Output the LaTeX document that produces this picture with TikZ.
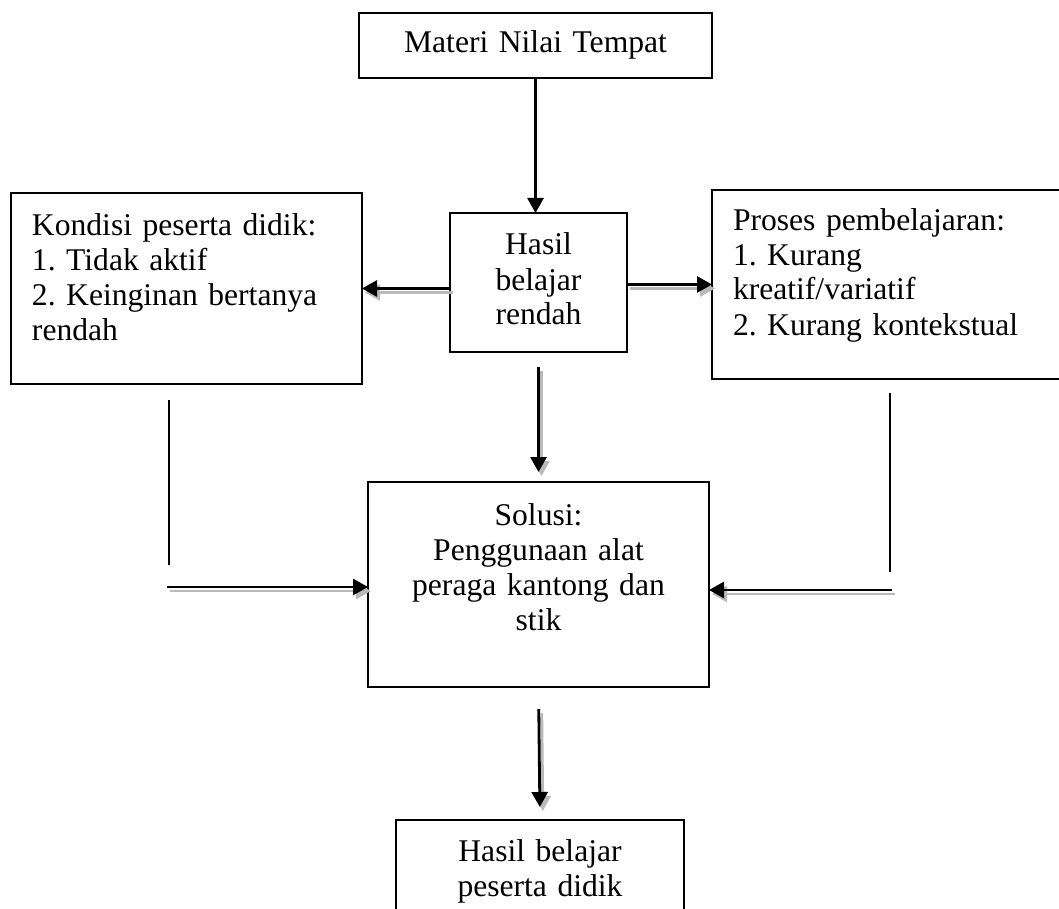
\documentclass[tikz,border=0pt]{standalone}
\usepackage{fontspec}
\setmainfont{Liberation Serif}
\usetikzlibrary{arrows.meta}
\frenchspacing
\tikzset{
	kotak/.style = {draw, line width = 1pt, inner xsep = 10.5pt, inner ysep = 0pt, outer sep = 0pt, anchor = north west, font = \fontsize{15.8}{17.5}\selectfont},
	panah/.style = {line width = 1.4pt, -{Triangle[length = 7.5pt, width = 8pt]}},
	bayang/.style = {draw = gray!55, transform canvas = {xshift = 1.5pt, yshift = -2pt}},
	garis/.style = {line width = 1pt}
}

\begin{document}
\begin{tikzpicture}[x = 0.5pt, y = -0.5pt]
		\useasboundingbox (0, 0) rectangle (1059, 909);
		% kotak
		\node [kotak, text width = 155.5pt, align = center, text height = 20pt, text depth = 12.5pt] (materi) at (359, 13) {Materi Nilai Tempat};
		\node [kotak, text width = 67.5pt, align = center, text height = 21pt, text depth = 48.5pt] (hasil) at (450, 213) {Hasil\\ belajar\\ rendah};
		\node [kotak, text width = 154.5pt, align = left, text height = 21pt, text depth = 74.5pt] (kondisi) at (11, 193) {Kondisi peserta didik:\\ 1. Tidak aktif\\ 2. Keinginan bertanya\\ rendah};
		\node [kotak, text width = 159pt, align = left, text height = 20pt, text depth = 74.5pt] (proses) at (712, 190) {Proses pembelajaran:\\ 1. Kurang\\ kreatif/variatif\\ 2. Kurang kontekstual};
		\node [kotak, text width = 149.5pt, align = center, text height = 21.5pt, text depth = 81pt] (solusi) at (368, 482) {Solusi:\\ Penggunaan alat\\ peraga kantong dan\\ stik};
		\node [kotak, text width = 123pt, align = center, text height = 20.5pt, text depth = 34.5pt] (akhir) at (396, 820) {Hasil belajar\\ peserta didik};
		% titik bantu
		\coordinate (kiri1) at (169, 400);
		\coordinate (kiri2) at (169, 565);
		\coordinate (kiri3) at (167, 587);
		\coordinate (kanan1) at (890, 393);
		\coordinate (kanan2) at (890, 572);
		\coordinate (kanan3) at (892, 590);
		% garis
		\draw [garis] (kiri1) -- (kiri2);
		\draw [garis] (kanan1) -- (kanan2);
		% panah
		\draw [panah] (materi.south) -- (materi.south |- hasil.north);
		\draw [panah, bayang] (hasil.west |- kondisi.east) -- (kondisi.east);
		\draw [panah] (hasil.west |- kondisi.east) -- (kondisi.east);
		\draw [panah, bayang] (hasil.east |- proses.west) -- (proses.west);
		\draw [panah] (hasil.east |- proses.west) -- (proses.west);
		\draw [panah, bayang, shorten <= 7.5pt, shorten >= 5pt] (hasil.south) -- (solusi.north);
		\draw [panah, shorten <= 7.5pt, shorten >= 5pt] (hasil.south) -- (solusi.north);
		\draw [panah, bayang] (kiri3) -- (kiri3 -| solusi.west);
		\draw [panah] (kiri3) -- (kiri3 -| solusi.west);
		\draw [panah, bayang] (kanan3) -- (kanan3 -| solusi.east);
		\draw [panah] (kanan3) -- (kanan3 -| solusi.east);
		\draw [panah, bayang, shorten <= 11pt, shorten >= 6.5pt] (solusi.south) -- (akhir.north);
		\draw [panah, shorten <= 11pt, shorten >= 6.5pt] (solusi.south) -- (akhir.north);
	\end{tikzpicture}
\end{document}
